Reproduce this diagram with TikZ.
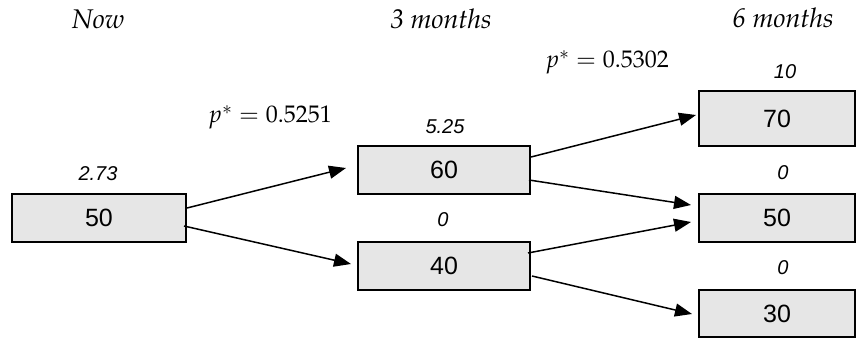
\documentclass[tikz,border=0pt]{standalone}
\usepackage{mathpazo}
\usepackage[no-math]{fontspec}
\newfontfamily\arialfont{Liberation Sans}
\usetikzlibrary{arrows.meta,calc}
\definecolor{boxfill}{RGB}{230,230,230}
\newcommand{\palit}{\fontencoding{OT1}\fontfamily{ppl}\fontshape{it}\selectfont}
\tikzset{
  box/.style={draw=black, line width=2pt, fill=boxfill, inner sep=0pt, font=\arialfont\fontsize{25}{29}\selectfont},
  val/.style={inner sep=0pt, font=\arialfont\itshape\fontsize{20}{24}\selectfont},
  head/.style={inner sep=0pt, anchor=base, font=\fontsize{27}{31}\palit},
  prob/.style={inner sep=0pt, anchor=base, font=\fontsize{24}{28}\selectfont},
  arr/.style={line width=1.5pt, -{Triangle[length=17pt,width=13pt]}}
}
\begin{document}
\begin{tikzpicture}[x=1pt,y=-1pt]
\useasboundingbox (0,0) rectangle (856,339);
% boxes
\node[box, minimum width=174pt, minimum height=48pt] (n0) at (99,218) {50};
\node[box, minimum width=172pt, minimum height=48pt] (nu) at (444,170) {60};
\node[box, minimum width=172pt, minimum height=48pt] (nd) at (444,266) {40};
\node[box, minimum width=156pt, minimum height=55pt] (nuu) at (777,118.5) {70};
\node[box, minimum width=156pt, minimum height=48pt] (nud) at (777,218) {50};
\node[box, minimum width=156pt, minimum height=47pt] (ndd) at (777,313.5) {30};
% headers
\node[head] (hnow) at (98,29) {Now};
\node[head] (h3) at (441,29) {3 months};
\node[head] (h6) at (783,28) {6 months};
% probabilities
\node[prob] (p1) at (270,123) {$p^{*} = 0.5251$};
\node[prob] (p2) at (607,68) {$p^{*} = 0.5302$};
% option values
\node[val] (v0) at (98,173.5) {2.73};
\node[val] (vu) at (445,127) {5.25};
\node[val] (vd) at (443,220) {0};
\node[val] (vuu) at (785,72) {10};
\node[val] (vud) at (783,173) {0};
\node[val] (vdd) at (783,268) {0};
% arrows
\draw[arr] ($(n0.east)+(0,-10)$) -- ($(nu.west)+(-11,-2)$);
\draw[arr] ($(n0.east)+(-3,8)$) -- ($(nd.west)+(-6,-2)$);
\draw[arr] ($(nu.east)+(0,-13)$) -- ($(nuu.west)+(-2,-3.5)$);
\draw[arr] ($(nu.east)+(-2,10)$) -- ($(nud.west)+(-7,-13)$);
\draw[arr] ($(nd.east)+(-3,-13)$) -- ($(nud.west)+(-7,4)$);
\draw[arr] ($(nd.east)+(1,10)$) -- ($(ndd.west)+(-6,0.5)$);
\end{tikzpicture}
\end{document}
